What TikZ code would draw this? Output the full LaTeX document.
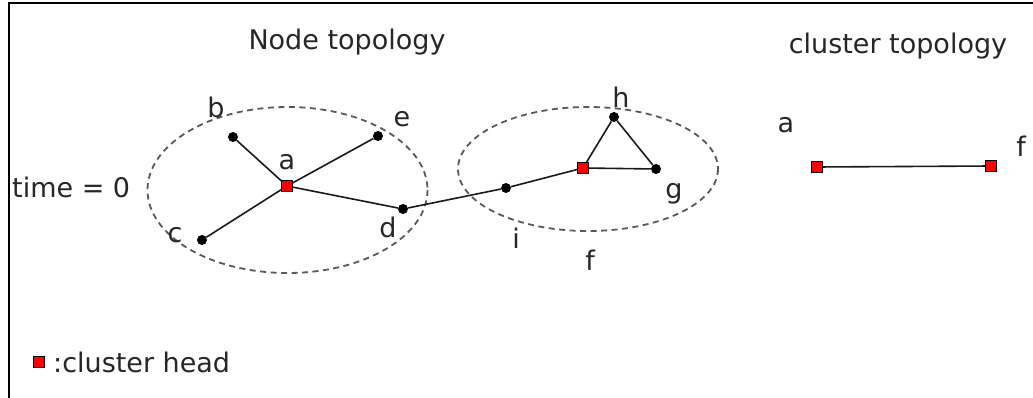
\documentclass[tikz,border=0pt]{standalone}
\usepackage{fontspec}
\setmainfont{DejaVu Sans}
\tikzset{
  dot/.style={circle, fill=black, inner sep=0pt, minimum size=10pt},
  head/.style={rectangle, draw=black, fill=red, inner sep=0pt, minimum size=10.5pt, line width=1pt},
  txt/.style={font=\fontsize{27}{32}\selectfont, text=black!85, inner sep=0pt, anchor=base},
  link/.style={line width=1.6pt, draw=black!90},
  cluster/.style={dash pattern=on 6pt off 4.5pt, line width=1.8pt, draw=black!65},
}
\begin{document}
\begin{tikzpicture}[x=1pt, y=-1pt]
	\useasboundingbox (0,0) rectangle (1033,398);
	\draw[line width=2.5pt] (9,398) -- (9,3) -- (1033,3);
	
	% titles
	\node[txt] (T1) at (347,50) {Node topology};
	\node[txt] (T2) at (898,54) {cluster topology};
	\node[txt, anchor=base west] (T0) at (12,197) {time = 0};
	
	% clusters
	\draw[cluster] (287.5,190) ellipse [x radius=140, y radius=83];
	\draw[cluster] (588,169) ellipse [x radius=130, y radius=62];
	
	% node topology
	\node[dot] (b) at (233,137) {};
	\node[dot] (e) at (378,136) {};
	\node[dot] (c) at (202,240) {};
	\node[dot] (d) at (403,209) {};
	\node[dot] (i) at (506,188) {};
	\node[dot] (h) at (614,117) {};
	\node[dot] (g) at (656,169) {};
	\node[head] (a) at (287,186) {};
	\node[head] (f) at (583,168) {};
	
	\draw[link] (a) -- (b);
	\draw[link] (a) -- (e);
	\draw[link] (a) -- (c);
	\draw[link] (a) -- (d);
	\draw[link] (d) -- (i);
	\draw[link] (i) -- (f);
	\draw[link] (f) -- (h);
	\draw[link] (h) -- (g);
	\draw[link] (f) -- (g);
	
	\node[txt] (La) at (287,170) {a};
	\node[txt] (Lb) at (216,118) {b};
	\node[txt] (Lc) at (175,242) {c};
	\node[txt] (Ld) at (388,237) {d};
	\node[txt] (Le) at (402,127) {e};
	\node[txt] (Lf) at (590,270) {f};
	\node[txt] (Lg) at (674,199) {g};
	\node[txt] (Lh) at (621,108) {h};
	\node[txt] (Li) at (516,248) {i};
	
	% cluster topology
	\node[head] (A) at (817,167) {};
	\node[head] (F) at (991,166) {};
	\draw[link] (A) -- (F);
	\node[txt] (LA) at (786,133) {a};
	\node[txt] (LF) at (1021,157) {f};
	
	% legend
	\node[head] (K) at (39,362) {};
	\node[txt, anchor=base west] (LK) at (53,372) {:cluster head};
\end{tikzpicture}
\end{document}
